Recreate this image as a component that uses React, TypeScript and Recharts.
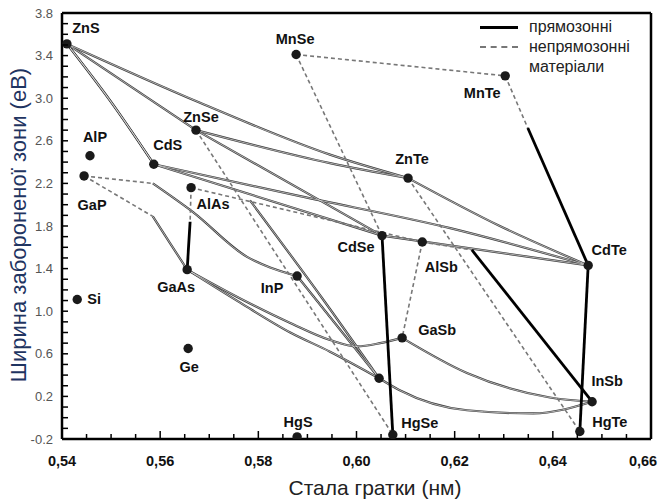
import React from 'react';
import { ComposedChart, Line, Scatter, XAxis, YAxis, ReferenceLine, Label } from 'recharts';

type Pt = { x: number; y: number };

// бінарні сполуки: стала гратки (нм), ширина забороненої зони (еВ)
const compounds = [
  { name: 'ZnS', x: 0.541, y: 3.51 },
  { name: 'MnSe', x: 0.5877, y: 3.41 },
  { name: 'MnTe', x: 0.6303, y: 3.21 },
  { name: 'AlP', x: 0.5457, y: 2.46 },
  { name: 'GaP', x: 0.5445, y: 2.27 },
  { name: 'ZnSe', x: 0.5673, y: 2.7 },
  { name: 'CdS', x: 0.5587, y: 2.38 },
  { name: 'AlAs', x: 0.5663, y: 2.16 },
  { name: 'ZnTe', x: 0.6105, y: 2.25 },
  { name: 'CdSe', x: 0.6052, y: 1.71 },
  { name: 'AlSb', x: 0.6134, y: 1.65 },
  { name: 'CdTe', x: 0.6472, y: 1.43 },
  { name: 'GaAs', x: 0.5655, y: 1.39 },
  { name: 'InP', x: 0.5879, y: 1.33 },
  { name: 'Si', x: 0.5431, y: 1.11 },
  { name: 'Ge', x: 0.5657, y: 0.65 },
  { name: 'GaSb', x: 0.6093, y: 0.75 },
  { name: '', x: 0.6046, y: 0.37 },
  { name: 'InSb', x: 0.648, y: 0.15 },
  { name: 'HgS', x: 0.5879, y: -0.18 },
  { name: 'HgSe', x: 0.6074, y: -0.16 },
  { name: 'HgTe', x: 0.6455, y: -0.13 },
];

// тонкі лінії (тверді розчини)
const znsZnte: Pt[] = [{ x: 0.541, y: 3.51 }, { x: 0.568, y: 2.96 }, { x: 0.5946, y: 2.47 }, { x: 0.6105, y: 2.25 }];
const znsZnse: Pt[] = [{ x: 0.541, y: 3.51 }, { x: 0.5673, y: 2.7 }];
const znsCds: Pt[] = [{ x: 0.541, y: 3.51 }, { x: 0.5498, y: 2.98 }, { x: 0.5587, y: 2.38 }];
const znsCds2: Pt[] = [{ x: 0.541, y: 3.51 }, { x: 0.5505, y: 2.93 }, { x: 0.5587, y: 2.38 }];
const znseZnte: Pt[] = [{ x: 0.5673, y: 2.7 }, { x: 0.5946, y: 2.39 }, { x: 0.6105, y: 2.25 }];
const znseCdse: Pt[] = [{ x: 0.5673, y: 2.7 }, { x: 0.6052, y: 1.71 }];
const cdsCdse: Pt[] = [{ x: 0.5587, y: 2.38 }, { x: 0.6052, y: 1.71 }];
const cdsCdte: Pt[] = [{ x: 0.5587, y: 2.38 }, { x: 0.5885, y: 2.08 }, { x: 0.6191, y: 1.78 }, { x: 0.6472, y: 1.43 }];
const cdseCdte: Pt[] = [{ x: 0.6052, y: 1.71 }, { x: 0.6472, y: 1.43 }];
const znteCdte: Pt[] = [{ x: 0.6105, y: 2.25 }, { x: 0.6292, y: 1.8 }, { x: 0.6472, y: 1.43 }];
const gapInp: Pt[] = [{ x: 0.5585, y: 2.2 }, { x: 0.5667, y: 1.93 }, { x: 0.5777, y: 1.51 }, { x: 0.5824, y: 1.41 }, { x: 0.5879, y: 1.33 }];
const gapGaas: Pt[] = [{ x: 0.5585, y: 1.89 }, { x: 0.562, y: 1.64 }, { x: 0.5655, y: 1.39 }];
const gaasGasb: Pt[] = [{ x: 0.5655, y: 1.39 }, { x: 0.5763, y: 1.12 }, { x: 0.5865, y: 0.89 }, { x: 0.5946, y: 0.73 }, { x: 0.6001, y: 0.67 }, { x: 0.6048, y: 0.7 }, { x: 0.6093, y: 0.75 }];
const gaasInas: Pt[] = [{ x: 0.5655, y: 1.39 }, { x: 0.5763, y: 1.08 }, { x: 0.5865, y: 0.8 }, { x: 0.5946, y: 0.62 }, { x: 0.6046, y: 0.37 }];
const inpInas: Pt[] = [{ x: 0.5879, y: 1.33 }, { x: 0.6046, y: 0.37 }];
const znseInas: Pt[] = [{ x: 0.5783, y: 2.04 }, { x: 0.5932, y: 1.11 }, { x: 0.6046, y: 0.37 }];
const inasInsb: Pt[] = [{ x: 0.6046, y: 0.37 }, { x: 0.6087, y: 0.26 }, { x: 0.6225, y: 0.07 }, { x: 0.636, y: 0.04 }, { x: 0.648, y: 0.15 }];
const gasbInsb: Pt[] = [{ x: 0.6093, y: 0.75 }, { x: 0.6225, y: 0.42 }, { x: 0.6394, y: 0.19 }, { x: 0.648, y: 0.15 }];

// непрямозонні ділянки
const mnseMnte: Pt[] = [{ x: 0.5877, y: 3.41 }, { x: 0.6303, y: 3.21 }];
const mnseCdse: Pt[] = [{ x: 0.5877, y: 3.41 }, { x: 0.6052, y: 1.71 }];
const mnteCdteInd: Pt[] = [{ x: 0.6303, y: 3.21 }, { x: 0.6349, y: 2.72 }];
const gapInpInd: Pt[] = [{ x: 0.5445, y: 2.27 }, { x: 0.5585, y: 2.2 }];
const gapGaasInd: Pt[] = [{ x: 0.5445, y: 2.27 }, { x: 0.5585, y: 1.89 }];
const alasGaasInd: Pt[] = [{ x: 0.5663, y: 2.16 }, { x: 0.5661, y: 1.84 }];
const alasAlsb: Pt[] = [{ x: 0.5663, y: 2.16 }, { x: 0.6134, y: 1.65 }];
const alsbGasb: Pt[] = [{ x: 0.6134, y: 1.65 }, { x: 0.6093, y: 0.75 }];
const alsbInsbInd: Pt[] = [{ x: 0.6134, y: 1.65 }, { x: 0.6235, y: 1.575 }];
const znseHgse: Pt[] = [{ x: 0.5673, y: 2.7 }, { x: 0.6074, y: -0.16 }];
const znteHgte: Pt[] = [{ x: 0.6105, y: 2.25 }, { x: 0.6455, y: -0.13 }];

// прямозонні ділянки
const alasGaasDir: Pt[] = [{ x: 0.5661, y: 1.84 }, { x: 0.5655, y: 1.39 }];
const cdseHgse: Pt[] = [{ x: 0.6052, y: 1.71 }, { x: 0.6074, y: -0.16 }];
const cdteHgte: Pt[] = [{ x: 0.6472, y: 1.43 }, { x: 0.6455, y: -0.13 }];
const mnteCdteDir: Pt[] = [{ x: 0.6349, y: 2.72 }, { x: 0.6472, y: 1.43 }];
const alsbInsbDir: Pt[] = [{ x: 0.6235, y: 1.575 }, { x: 0.648, y: 0.15 }];

const thinCurves = [znsZnte, znsZnse, znsCds, znsCds2, znseZnte, znseCdse, cdsCdse, cdsCdte, cdseCdte, znteCdte,
  gapInp, gapGaas, gaasGasb, gaasInas, inpInas, znseInas, inasInsb, gasbInsb];
const dashedLines = [mnseMnte, mnseCdse, mnteCdteInd, gapInpInd, gapGaasInd, alasGaasInd, alasAlsb, alsbGasb, alsbInsbInd, znseHgse, znteHgte];
const thickLines = [alasGaasDir, cdseHgse, cdteHgte, mnteCdteDir, alsbInsbDir];

const yTickLabels = [-0.2, 0.2, 0.6, 1.0, 1.4, 1.8, 2.2, 2.6, 3.0, 3.4, 3.8];
const xTickLabels = [0.54, 0.56, 0.58, 0.6, 0.62, 0.64, 0.66];

const yTicks = Array.from({ length: 41 }, (_, i) => Math.round((-0.2 + i * 0.1) * 10) / 10);
const xTicks = Array.from({ length: 25 }, (_, i) => Math.round((0.54 + i * 0.005) * 1000) / 1000);

// зсув підпису відносно точки, px
const labelOffset: Record<string, [number, number]> = {
  ZnS: [19, -16], MnSe: [-1, -16], MnTe: [-23, 17], AlP: [5, -19], GaP: [8, 29],
  ZnSe: [5, -13], CdS: [14, -19], AlAs: [22, 16], ZnTe: [4, -19], CdSe: [-26, 11],
  AlSb: [19, 25], CdTe: [21, -15], GaAs: [-11, 17], InP: [-25, 12], Si: [17, 0],
  Ge: [1, 19], GaSb: [35, -8], InSb: [15, -21], HgS: [1, -15], HgSe: [27, -12], HgTe: [30, -10],
};

const font = 'Arial, "Liberation Sans", sans-serif';

const near = (arr: number[], v: number) => arr.some(t => Math.abs(t - v) < 1e-6);

const YTick = (props: any) => {
  const { x, y, payload } = props;
  const v = payload.value;
  return (
    <g>
      <line x1={x} x2={x + 6} y1={y} y2={y} stroke="#000" strokeWidth={1.5} />
      {near(yTickLabels, v) && (
        <text x={x - 9} y={y} textAnchor="end" dominantBaseline="central" fontSize={13} fill="#555" fontFamily={font}>
          {v.toFixed(1)}
        </text>
      )}
    </g>
  );
};

const XTick = (props: any) => {
  const { x, y, payload } = props;
  const v = payload.value;
  const major = near(xTickLabels, v);
  const last = Math.abs(v - 0.66) < 1e-6;
  return (
    <g>
      <line x1={x} x2={x} y1={y} y2={y - (major ? 8 : 5)} stroke="#000" strokeWidth={1.5} />
      {major && (
        <text x={last ? x - 8 : x} y={y + 22} textAnchor="middle" dominantBaseline="central" fontSize={14.5} fontWeight="bold" fill="#111" fontFamily={font}>
          {v.toFixed(2).replace('.', ',')}
        </text>
      )}
    </g>
  );
};

const Dot = (props: any) => {
  const { cx, cy, payload } = props;
  const off = labelOffset[payload.name];
  return (
    <g>
      <circle cx={cx} cy={cy} r={4.7} fill="#1a1a1a" />
      {off && (
        <text x={cx + off[0]} y={cy + off[1]} textAnchor="middle" dominantBaseline="central" fontSize={14.5} fontWeight="bold" fill="#111" fontFamily={font}>
          {payload.name}
        </text>
      )}
    </g>
  );
};

export default function App() {
  return (
    <div style={{ position: 'relative', width: 661, height: 503, background: '#fff' }}>
      <style>{'body{margin:0}'}</style>
      <ComposedChart width={661} height={503} margin={{ top: 13, right: 10, bottom: 0, left: 0 }}>
        <XAxis
          dataKey="x"
          type="number"
          domain={[0.54, 0.66]}
          allowDataOverflow
          ticks={xTicks}
          interval={0}
          tickSize={0}
          tickMargin={0}
          height={64}
          axisLine={{ stroke: '#000', strokeWidth: 2.5 }}
          tickLine={false}
          tick={<XTick />}
        >
          <Label
            content={() => (
              <text x={375} y={487} textAnchor="middle" dominantBaseline="central" fontSize={21} fill="#222" fontFamily={font}>
                Стала гратки (нм)
              </text>
            )}
          />
        </XAxis>
        <YAxis
          dataKey="y"
          type="number"
          domain={[-0.2, 3.8]}
          allowDataOverflow
          ticks={yTicks}
          interval={0}
          tickSize={0}
          tickMargin={0}
          width={62}
          axisLine={{ stroke: '#000', strokeWidth: 2.5 }}
          tickLine={false}
          tick={<YTick />}
        >
          <Label
            content={() => (
              <text x={18} y={225} transform="rotate(-90 18 225)" textAnchor="middle" dominantBaseline="central" fontSize={22} fill="#1f3461" fontFamily={font}>
                Ширина забороненої зони (еВ)
              </text>
            )}
          />
        </YAxis>
        <ReferenceLine y={3.8} stroke="#000" strokeWidth={2.5} />
        <ReferenceLine x={0.66} stroke="#000" strokeWidth={2.5} />

        {thinCurves.map((d, i) => (
          <Line key={`to${i}`} data={d} dataKey="y" type={d.length > 2 ? 'monotone' : 'linear'} stroke="#3c3c3c" strokeWidth={2.2} dot={false} activeDot={false} isAnimationActive={false} />
        ))}
        {thinCurves.map((d, i) => (
          <Line key={`ti${i}`} data={d} dataKey="y" type={d.length > 2 ? 'monotone' : 'linear'} stroke="#ffffff" strokeWidth={0.6} dot={false} activeDot={false} isAnimationActive={false} />
        ))}
        {dashedLines.map((d, i) => (
          <Line key={`d${i}`} data={d} dataKey="y" type="linear" stroke="#777" strokeWidth={1.6} strokeDasharray="4 3" dot={false} activeDot={false} isAnimationActive={false} />
        ))}
        {thickLines.map((d, i) => (
          <Line key={`t${i}`} data={d} dataKey="y" type="linear" stroke="#000" strokeWidth={2.8} dot={false} activeDot={false} isAnimationActive={false} />
        ))}
        <Scatter data={compounds} dataKey="y" shape={<Dot />} isAnimationActive={false} />
      </ComposedChart>

      <div style={{ position: 'absolute', left: 480, top: 17, fontFamily: font, fontSize: 16, color: '#222', lineHeight: '20px' }}>
        <div style={{ display: 'flex', alignItems: 'center', height: 20 }}>
          <span style={{ display: 'inline-block', width: 38, borderTop: '3px solid #000', marginRight: 11 }} />
          прямозонні
        </div>
        <div style={{ display: 'flex', alignItems: 'center', height: 20 }}>
          <span style={{ display: 'inline-block', width: 38, borderTop: '2px dashed #777', marginRight: 11 }} />
          непрямозонні
        </div>
        <div style={{ display: 'flex', alignItems: 'center', height: 20 }}>
          <span style={{ display: 'inline-block', width: 38, marginRight: 11 }} />
          матеріали
        </div>
      </div>
    </div>
  );
}
